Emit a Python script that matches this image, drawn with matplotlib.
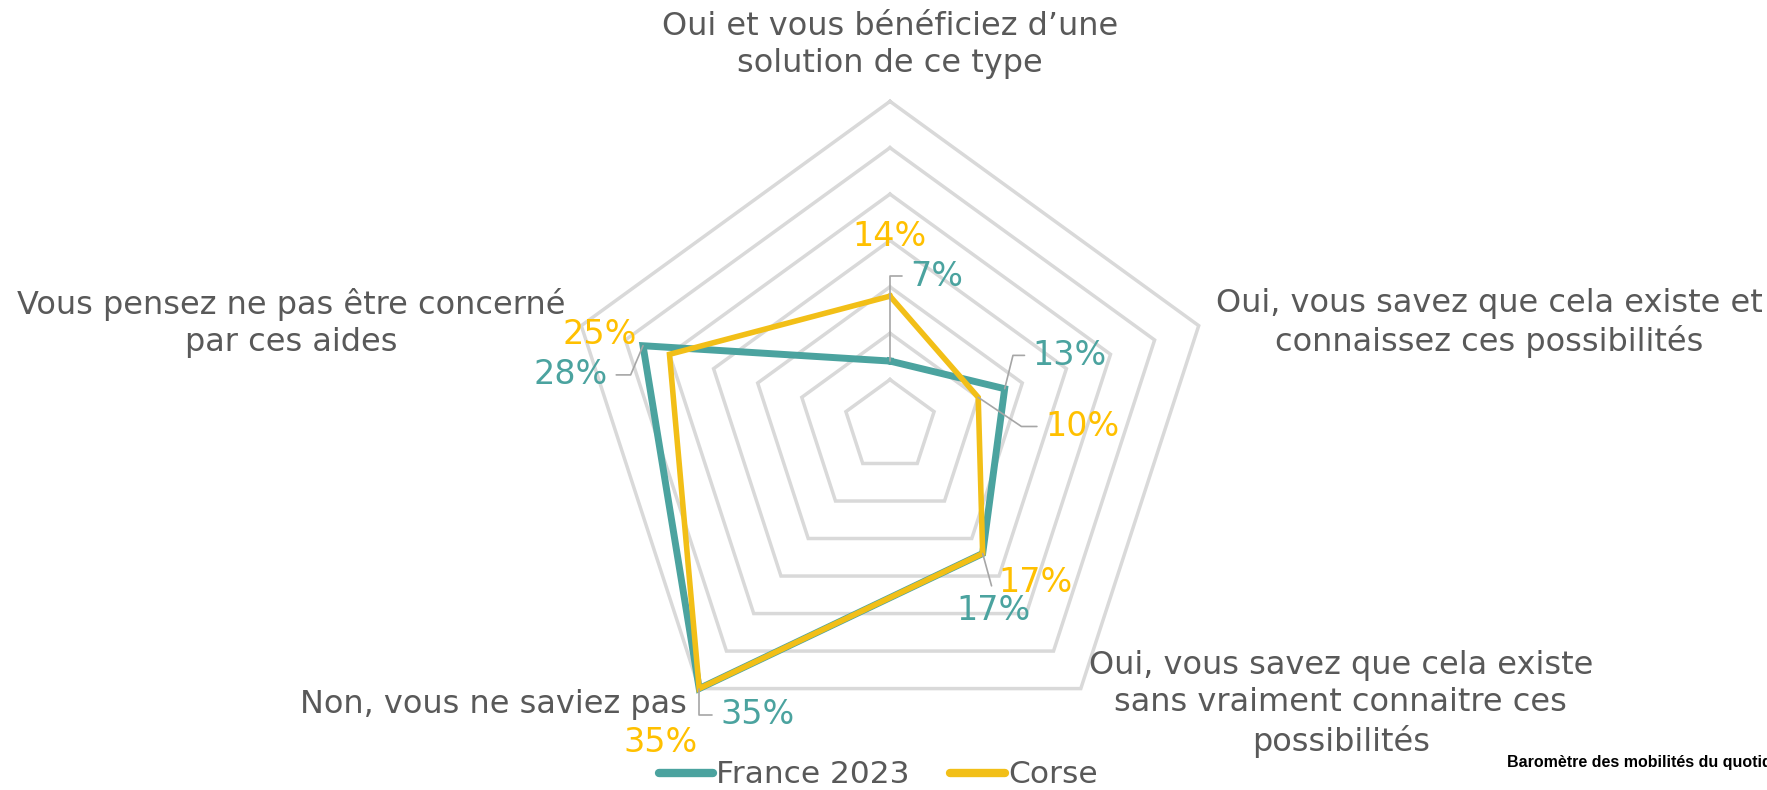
import numpy as np
import matplotlib
matplotlib.use("Agg")
import matplotlib.pyplot as plt

categories = [
    "Oui et vous bénéficiez d\u2019une\nsolution de ce type",
    "Oui, vous savez que cela existe et\nconnaissez ces possibilités",
    "Oui, vous savez que cela existe\nsans vraiment connaitre ces\npossibilités",
    "Non, vous ne saviez pas",
    "Vous pensez ne pas être concerné\npar ces aides",
]
france = [7, 13, 17, 35, 28]
corse = [14, 10, 17, 35, 25]
series_names = ["France 2023", "Corse"]
rings = [5, 10, 15, 20, 25, 30, 35]

teal = "#4BA39F"
yellow = "#F2BF17"
yellow_txt = "#FFC000"
grey_txt = "#595959"

fig = plt.figure(figsize=(17.67, 7.90), dpi=100)
ax = fig.add_axes([0, 0, 1, 1])
ax.set_xlim(-95.96, 94.56)
ax.set_ylim(-39.25, 45.93)
ax.set_aspect("equal")
ax.axis("off")

n = len(categories)
theta = np.arange(n) * 2 * np.pi / n


def xy(vals):
    v = np.asarray(vals, dtype=float)
    x = v * np.sin(theta)
    y = v * np.cos(theta)
    return np.append(x, x[0]), np.append(y, y[0])


# pentagon grid
for r in rings:
    gx, gy = xy([r] * n)
    ax.plot(gx, gy, color="#D9D9D9", lw=2.5, zorder=1, solid_joinstyle="miter")

fx, fy = xy(france)
cx, cy = xy(corse)
lf, = ax.plot(fx, fy, color=teal, lw=5.0, zorder=3, solid_joinstyle="miter")
lc, = ax.plot(cx, cy, color=yellow, lw=4.0, zorder=4, solid_joinstyle="miter")

# category labels
cat_pos = [(0, 41.1, "center"), (64.6, 11.1, "center"), (48.6, -30.0, "center"),
           (-21.9, -30.0, "right"), (-64.6, 11.1, "center")]
for lab, (tx, ty, ha) in zip(categories, cat_pos):
    ax.text(tx, ty, lab, ha=ha, va="center", fontsize=23, color=grey_txt,
            linespacing=1.25, multialignment="center")

# data labels: offset in points, leader line (relpos, angleB) or None
france_lab = [((34, 61), ((0, 0.5), 90)),
              ((47, 24), ((0, 0.5), 76)),
              ((8, -41), ((0.5, 1), None)),
              ((42, -19), ((0, 0.5), 90)),
              ((-52, -21), ((1, 0.5), -113))]
corse_lab = [((0, 43), None),
             ((75, -21), ((0, 0.5), -34)),
             ((38, -21), None),
             ((-28, -39), None),
             ((-50, 14), None)]

leader = "#A6A6A6"
for vals, labs, col in [(france, france_lab, teal), (corse, corse_lab, yellow_txt)]:
    px, py = xy(vals)
    for i in range(n):
        off, ld = labs[i]
        kw = {}
        if ld is not None:
            rel, angB = ld
            cs = "arc3" if angB is None else "angle,angleA=0,angleB=%d,rad=0" % angB
            kw["arrowprops"] = dict(arrowstyle="-", color=leader, lw=1.2,
                                    relpos=rel, connectionstyle=cs,
                                    shrinkA=4, shrinkB=0)
        ax.annotate("%d%%" % vals[i], xy=(px[i], py[i]), xytext=off,
                    textcoords="offset points", ha="center", va="center",
                    fontsize=24, color=col, zorder=5, **kw)

leg = fig.legend([lf, lc], series_names, loc="center",
                 bbox_to_anchor=(0.497, 0.019), ncol=2, frameon=False,
                 fontsize=22.5, handlelength=1.75, handletextpad=0.1,
                 columnspacing=1.3, borderpad=0)
for t in leg.get_texts():
    t.set_color(grey_txt)
for h in leg.get_lines():
    h.set_linewidth(6)
    h.set_solid_capstyle("round")

fig.text(1507 / 1767, 1 - 762 / 790, "Baromètre des mobilités du quotidien",
         fontsize=11.5, fontweight="bold", family="Liberation Sans",
         ha="left", va="center", color="black")

fig.savefig("out.png", dpi=100, facecolor="white")
